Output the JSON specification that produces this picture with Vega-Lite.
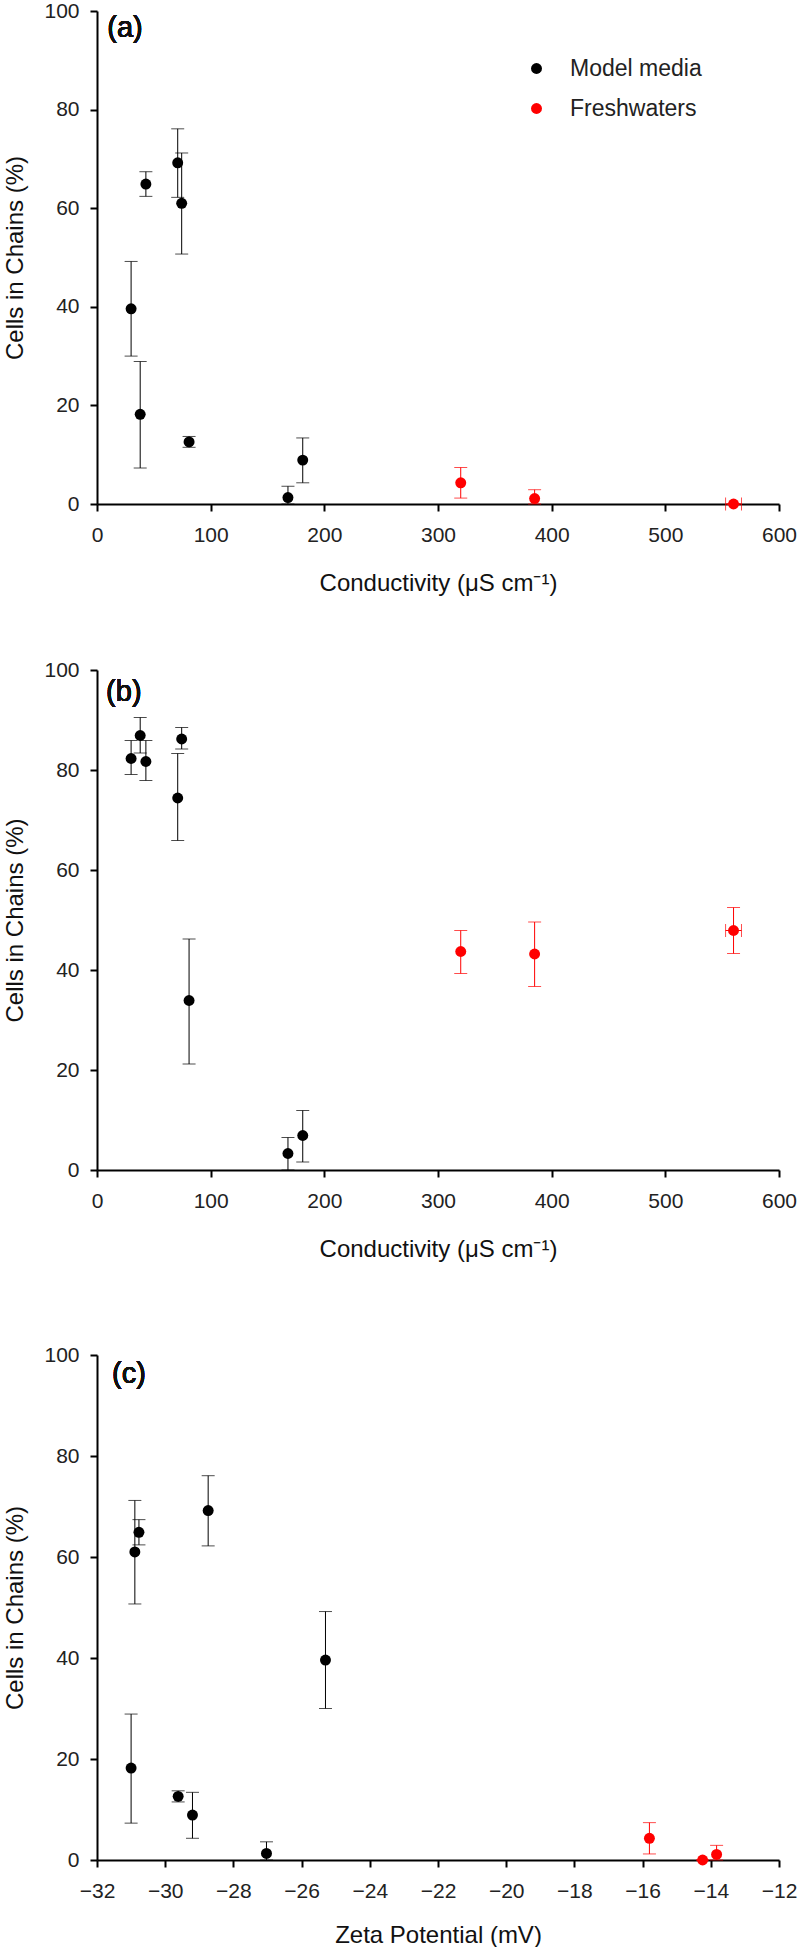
{
  "$schema": "https://vega.github.io/schema/vega-lite/v6.json",
  "padding": {"top": 0, "left": 3, "right": 1, "bottom": 0},
  "background": "white",
  "config": {
    "font": "Liberation Sans",
    "view": {"stroke": null},
    "axis": {
      "grid": false,
      "domainColor": "#000",
      "domainWidth": 2,
      "tickColor": "#000",
      "tickWidth": 2,
      "tickSize": 7,
      "labelFont": "Liberation Sans",
      "labelFontSize": 21,
      "labelColor": "#222",
      "labelFlush": false,
      "labelOverlap": false,
      "titleFont": "Liberation Sans",
      "titleFontSize": 24,
      "titleFontWeight": "normal",
      "titleColor": "#111"
    },
    "axisX": {"labelPadding": 13, "titlePadding": 26},
    "axisY": {"labelPadding": 11, "titlePadding": 16}
  },
  "datasets": {
    "pts": [
      {"group": "Model media", "cond": 30, "zeta": -25.3, "a": 39.6, "aLo": 30.0, "aHi": 49.2, "b": 82.3, "bLo": 79.1, "bHi": 85.9},
      {"group": "Model media", "cond": 38, "zeta": -31.0, "a": 18.2, "aLo": 7.3, "aHi": 28.9, "b": 86.9, "bLo": 83.4, "bHi": 90.5},
      {"group": "Model media", "cond": 43, "zeta": -30.77, "a": 64.9, "aLo": 62.4, "aHi": 67.4, "b": 81.7, "bLo": 77.9, "bHi": 85.9},
      {"group": "Model media", "cond": 71, "zeta": -28.74, "a": 69.2, "aLo": 62.2, "aHi": 76.1, "b": 74.4, "bLo": 65.9, "bHi": 83.3},
      {"group": "Model media", "cond": 74.5, "zeta": -30.89, "a": 61.0, "aLo": 50.7, "aHi": 71.2, "b": 86.2, "bLo": 84.2, "bHi": 88.5},
      {"group": "Model media", "cond": 81, "zeta": -29.62, "a": 12.6, "aLo": 11.5, "aHi": 13.7, "b": 33.9, "bLo": 21.2, "bHi": 46.2},
      {"group": "Model media", "cond": 168, "zeta": -27.03, "a": 1.3, "aLo": 0, "aHi": 3.6, "b": 3.3, "bLo": 0, "bHi": 6.5},
      {"group": "Model media", "cond": 181, "zeta": -29.2, "a": 8.9, "aLo": 4.3, "aHi": 13.4, "b": 6.9, "bLo": 1.6, "bHi": 11.9},
      {"group": "Freshwaters", "cond": 320, "zeta": -15.8, "a": 4.3, "aLo": 1.2, "aHi": 7.4, "b": 43.7, "bLo": 39.3, "bHi": 47.9},
      {"group": "Freshwaters", "cond": 385, "zeta": -13.83, "a": 1.1, "aLo": 0, "aHi": 2.9, "b": 43.2, "bLo": 36.7, "bHi": 49.6},
      {"group": "Freshwaters", "cond": 560, "condLo": 553, "condHi": 567, "zeta": -14.24, "a": 0, "aLo": 0, "aHi": 0, "b": 47.9, "bLo": 43.3, "bHi": 52.5}
    ]
  },
  "resolve": {"scale": {"color": "independent"}, "legend": {"color": "independent"}},
  "spacing": 64,
  "vconcat": [
    {
      "width": 682,
      "height": 493,
      "data": {"name": "pts"},
      "encoding": {
        "x": {"field": "cond", "type": "quantitative", "scale": {"domain": [0, 600], "nice": false}, "axis": {"values": [0, 100, 200, 300, 400, 500, 600], "title": "Conductivity (μS cm⁻¹)"}},
        "color": {"field": "group", "type": "nominal", "scale": {"domain": ["Model media", "Freshwaters"], "range": ["#000000", "#ff0000"]},
          "legend": {"title": null, "orient": "none", "legendX": 428, "legendY": 46, "symbolType": "circle", "symbolSize": 120, "symbolOpacity": 1, "symbolStrokeWidth": 0, "labelFontSize": 23, "labelColor": "#222", "labelFont": "Liberation Sans", "labelOffset": 22, "rowPadding": 16, "padding": 0}}
      },
      "layer": [
        {"mark": {"type": "rule", "strokeWidth": 1}, "encoding": {"y": {"field": "aLo", "type": "quantitative", "scale": {"domain": [0, 100], "nice": false}, "axis": {"values": [0, 20, 40, 60, 80, 100], "title": "Cells in Chains (%)"}}, "y2": {"field": "aHi"}}},
        {"mark": {"type": "tick", "orient": "horizontal", "size": 13, "thickness": 1}, "encoding": {"y": {"field": "aLo", "type": "quantitative"}}},
        {"mark": {"type": "tick", "orient": "horizontal", "size": 13, "thickness": 1}, "encoding": {"y": {"field": "aHi", "type": "quantitative"}}},
        {"transform": [{"filter": "datum.condLo != null"}], "mark": {"type": "rule", "strokeWidth": 1}, "encoding": {"x": {"field": "condLo", "type": "quantitative"}, "x2": {"field": "condHi"}, "y": {"field": "a", "type": "quantitative"}}},
        {"transform": [{"filter": "datum.condLo != null"}], "mark": {"type": "tick", "orient": "vertical", "size": 13, "thickness": 1}, "encoding": {"x": {"field": "condLo", "type": "quantitative"}, "y": {"field": "a", "type": "quantitative"}}},
        {"transform": [{"filter": "datum.condLo != null"}], "mark": {"type": "tick", "orient": "vertical", "size": 13, "thickness": 1}, "encoding": {"x": {"field": "condHi", "type": "quantitative"}, "y": {"field": "a", "type": "quantitative"}}},
        {"mark": {"type": "point", "shape": "circle", "filled": true, "opacity": 1, "size": 120}, "encoding": {"y": {"field": "a", "type": "quantitative"}}},
        {"mark": {"type": "text", "align": "left", "baseline": "middle", "fontSize": 29, "fontWeight": "normal"}, "encoding": {"x": {"datum": 9}, "y": {"datum": 96.5}, "text": {"value": "(a)"}, "color": {"value": "#111"}}}
      ]
    },
    {
      "spacing": 83,
      "resolve": {"scale": {"color": "independent"}, "legend": {"color": "independent"}},
      "vconcat": [
        {
          "width": 682,
          "height": 500,
          "data": {"name": "pts"},
          "encoding": {
            "x": {"field": "cond", "type": "quantitative", "scale": {"domain": [0, 600], "nice": false}, "axis": {"values": [0, 100, 200, 300, 400, 500, 600], "title": "Conductivity (μS cm⁻¹)"}},
            "color": {"field": "group", "type": "nominal", "scale": {"domain": ["Model media", "Freshwaters"], "range": ["#000000", "#ff0000"]}, "legend": null}
          },
          "layer": [
            {"mark": {"type": "rule", "strokeWidth": 1}, "encoding": {"y": {"field": "bLo", "type": "quantitative", "scale": {"domain": [0, 100], "nice": false}, "axis": {"values": [0, 20, 40, 60, 80, 100], "title": "Cells in Chains (%)"}}, "y2": {"field": "bHi"}}},
            {"mark": {"type": "tick", "orient": "horizontal", "size": 13, "thickness": 1}, "encoding": {"y": {"field": "bLo", "type": "quantitative"}}},
            {"mark": {"type": "tick", "orient": "horizontal", "size": 13, "thickness": 1}, "encoding": {"y": {"field": "bHi", "type": "quantitative"}}},
            {"transform": [{"filter": "datum.condLo != null"}], "mark": {"type": "rule", "strokeWidth": 1}, "encoding": {"x": {"field": "condLo", "type": "quantitative"}, "x2": {"field": "condHi"}, "y": {"field": "b", "type": "quantitative"}}},
            {"transform": [{"filter": "datum.condLo != null"}], "mark": {"type": "tick", "orient": "vertical", "size": 13, "thickness": 1}, "encoding": {"x": {"field": "condLo", "type": "quantitative"}, "y": {"field": "b", "type": "quantitative"}}},
            {"transform": [{"filter": "datum.condLo != null"}], "mark": {"type": "tick", "orient": "vertical", "size": 13, "thickness": 1}, "encoding": {"x": {"field": "condHi", "type": "quantitative"}, "y": {"field": "b", "type": "quantitative"}}},
            {"mark": {"type": "point", "shape": "circle", "filled": true, "opacity": 1, "size": 120}, "encoding": {"y": {"field": "b", "type": "quantitative"}}},
            {"mark": {"type": "text", "align": "left", "baseline": "middle", "fontSize": 29, "fontWeight": "normal"}, "encoding": {"x": {"datum": 8}, "y": {"datum": 95.7}, "text": {"value": "(b)"}, "color": {"value": "#111"}}}
          ]
        },
        {
          "width": 682,
          "height": 505,
          "data": {"name": "pts"},
          "encoding": {
            "x": {"field": "zeta", "type": "quantitative", "scale": {"domain": [-32, -12], "nice": false, "zero": false}, "axis": {"values": [-32, -30, -28, -26, -24, -22, -20, -18, -16, -14, -12], "title": "Zeta Potential (mV)", "titlePadding": 22}},
            "color": {"field": "group", "type": "nominal", "scale": {"domain": ["Model media", "Freshwaters"], "range": ["#000000", "#ff0000"]}, "legend": null}
          },
          "layer": [
            {"mark": {"type": "rule", "strokeWidth": 1}, "encoding": {"y": {"field": "aLo", "type": "quantitative", "scale": {"domain": [0, 100], "nice": false}, "axis": {"values": [0, 20, 40, 60, 80, 100], "title": "Cells in Chains (%)"}}, "y2": {"field": "aHi"}}},
            {"mark": {"type": "tick", "orient": "horizontal", "size": 13, "thickness": 1}, "encoding": {"y": {"field": "aLo", "type": "quantitative"}}},
            {"mark": {"type": "tick", "orient": "horizontal", "size": 13, "thickness": 1}, "encoding": {"y": {"field": "aHi", "type": "quantitative"}}},
            {"mark": {"type": "point", "shape": "circle", "filled": true, "opacity": 1, "size": 120}, "encoding": {"y": {"field": "a", "type": "quantitative"}}},
            {"mark": {"type": "text", "align": "left", "baseline": "middle", "fontSize": 29, "fontWeight": "normal"}, "encoding": {"x": {"datum": -31.56}, "y": {"datum": 96.2}, "text": {"value": "(c)"}, "color": {"value": "#111"}}}
          ]
        }
      ]
    }
  ]
}
